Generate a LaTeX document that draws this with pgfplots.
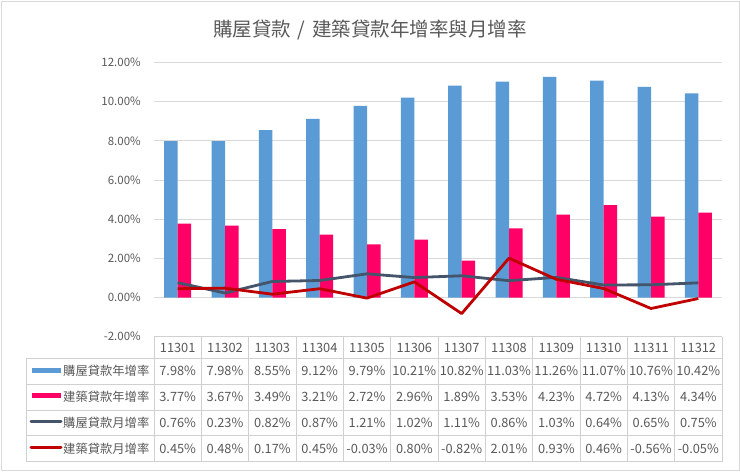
\documentclass[border=0pt]{standalone}
\usepackage{fontspec}
\setmainfont{Noto Sans CJK TC}
\usepackage{pgfplots}
\usepackage{pgfplotstable}
\pgfplotsset{compat=1.18}
\definecolor{txt}{HTML}{595959}
\definecolor{gridgray}{HTML}{D9D9D9}
\definecolor{tablegray}{HTML}{D0D0D0}
\definecolor{framegray}{HTML}{D9D9D9}
\definecolor{barblue}{HTML}{5B9BD5}
\definecolor{barpink}{HTML}{FF0066}
\definecolor{linedark}{HTML}{44546A}
\definecolor{linered}{HTML}{C00000}

% x  month  hy=購屋年增  cy=建築年增  hm=購屋月增  cm=建築月增
\pgfplotstableread{
x  ym     hy     cy    hm    cm
1  11301  7.98   3.77  0.76  0.45
2  11302  7.98   3.67  0.23  0.48
3  11303  8.55   3.49  0.82  0.17
4  11304  9.12   3.21  0.87  0.45
5  11305  9.79   2.72  1.21  -0.03
6  11306  10.21  2.96  1.02  0.80
7  11307  10.82  1.89  1.11  -0.82
8  11308  11.03  3.53  0.86  2.01
9  11309  11.26  4.23  1.03  0.93
10 11310  11.07  4.72  0.64  0.46
11 11311  10.76  4.13  0.65  -0.56
12 11312  10.42  4.34  0.75  -0.05
}\loandata

\begin{document}
\begin{tikzpicture}
\fill[white] (0,0) rectangle (740pt,-472pt);
\draw[framegray, line width=1pt] (1pt,-1pt) rectangle (739pt,-470pt);

\node[text=txt, font=\fontsize{19.5}{22}\selectfont] at (370pt,-30pt)
  {購屋貸款\hspace{0.35em}/\hspace{0.35em}建築貸款年增率與月增率};

\begin{axis}[
    at={(154pt,-336.7pt)}, anchor=south west,
    scale only axis, width=568pt, height=274.2pt,
    xmin=0.5, xmax=12.5, ymin=-2, ymax=12,
    ytick={-2,0,...,12}, xtick=\empty,
    ymajorgrids, grid style={gridgray, line width=0.75pt},
    axis line style={draw=none}, major tick length=0pt,
    yticklabel={\pgfmathprintnumber[fixed,fixed zerofill,precision=2,assume math mode=true]{\tick}\%},
    yticklabel style={font=\fontsize{11.5}{13}\selectfont, text=txt, inner sep=0pt, xshift=-13pt},
  ]
  \addplot[ybar, bar width=13.5pt, bar shift=-6.75pt, fill=barblue, draw=none]
    table[x=x, y=hy]{\loandata};
  \addplot[ybar, bar width=13.5pt, bar shift=6.75pt, fill=barpink, draw=none]
    table[x=x, y=cy]{\loandata};
  \addplot[sharp plot, no marks, color=linedark, line width=2.8pt, line join=round]
    table[x=x, y=hm]{\loandata};
  \addplot[sharp plot, no marks, color=linered, line width=2.8pt, line join=round]
    table[x=x, y=cm]{\loandata};
\end{axis}

% data table under the plot
\begin{scope}[x=1pt, y=-1pt, every node/.style={text=txt, font=\fontsize{12.3}{14}\selectfont}]
  \draw[tablegray, line width=0.75pt] (154,336.7) -- (722,336.7);
  \foreach \k in {0,...,4}
    \draw[tablegray, line width=0.75pt] (26.7,{358.3+25.85*\k}) -- (722,{358.3+25.85*\k});
  \draw[tablegray, line width=0.75pt] (26.7,358.3) -- (26.7,461.7);
  \foreach \k in {0,...,12}
    \draw[tablegray, line width=0.75pt] ({154+47.333*\k},336.7) -- ({154+47.333*\k},461.7);

  \foreach \i in {0,...,11} {
    \pgfplotstablegetelem{\i}{ym}\of\loandata
    \node[font=\fontsize{12.8}{14}\selectfont] at ({154+47.333*(\i+0.5)},347.5) {\pgfplotsretval};
    \pgfplotstablegetelem{\i}{hy}\of\loandata
    \node[font=\fontsize{12.8}{14}\selectfont] at ({154+47.333*(\i+0.5)},371.2) {\pgfplotsretval\%};
    \pgfplotstablegetelem{\i}{cy}\of\loandata
    \node[font=\fontsize{12.8}{14}\selectfont] at ({154+47.333*(\i+0.5)},397.1) {\pgfplotsretval\%};
    \pgfplotstablegetelem{\i}{hm}\of\loandata
    \node[font=\fontsize{12.8}{14}\selectfont] at ({154+47.333*(\i+0.5)},422.9) {\pgfplotsretval\%};
    \pgfplotstablegetelem{\i}{cm}\of\loandata
    \node[font=\fontsize{12.8}{14}\selectfont] at ({154+47.333*(\i+0.5)},448.8) {\pgfplotsretval\%};
  }

  % legend keys
  \fill[barblue] (31.5,367.5) rectangle (60.5,372.5);
  \fill[barpink] (31.5,393.4) rectangle (60.5,398.4);
  \draw[linedark, line width=3pt, line cap=round] (31,421.8) -- (61,421.8);
  \draw[linered, line width=3pt, line cap=round] (31,447.7) -- (61,447.7);
  \node[anchor=west, inner sep=0pt] at (63,371.2) {購屋貸款年增率};
  \node[anchor=west, inner sep=0pt] at (63,397.1) {建築貸款年增率};
  \node[anchor=west, inner sep=0pt] at (63,422.9) {購屋貸款月增率};
  \node[anchor=west, inner sep=0pt] at (63,448.8) {建築貸款月增率};
\end{scope}
\end{tikzpicture}
\end{document}
